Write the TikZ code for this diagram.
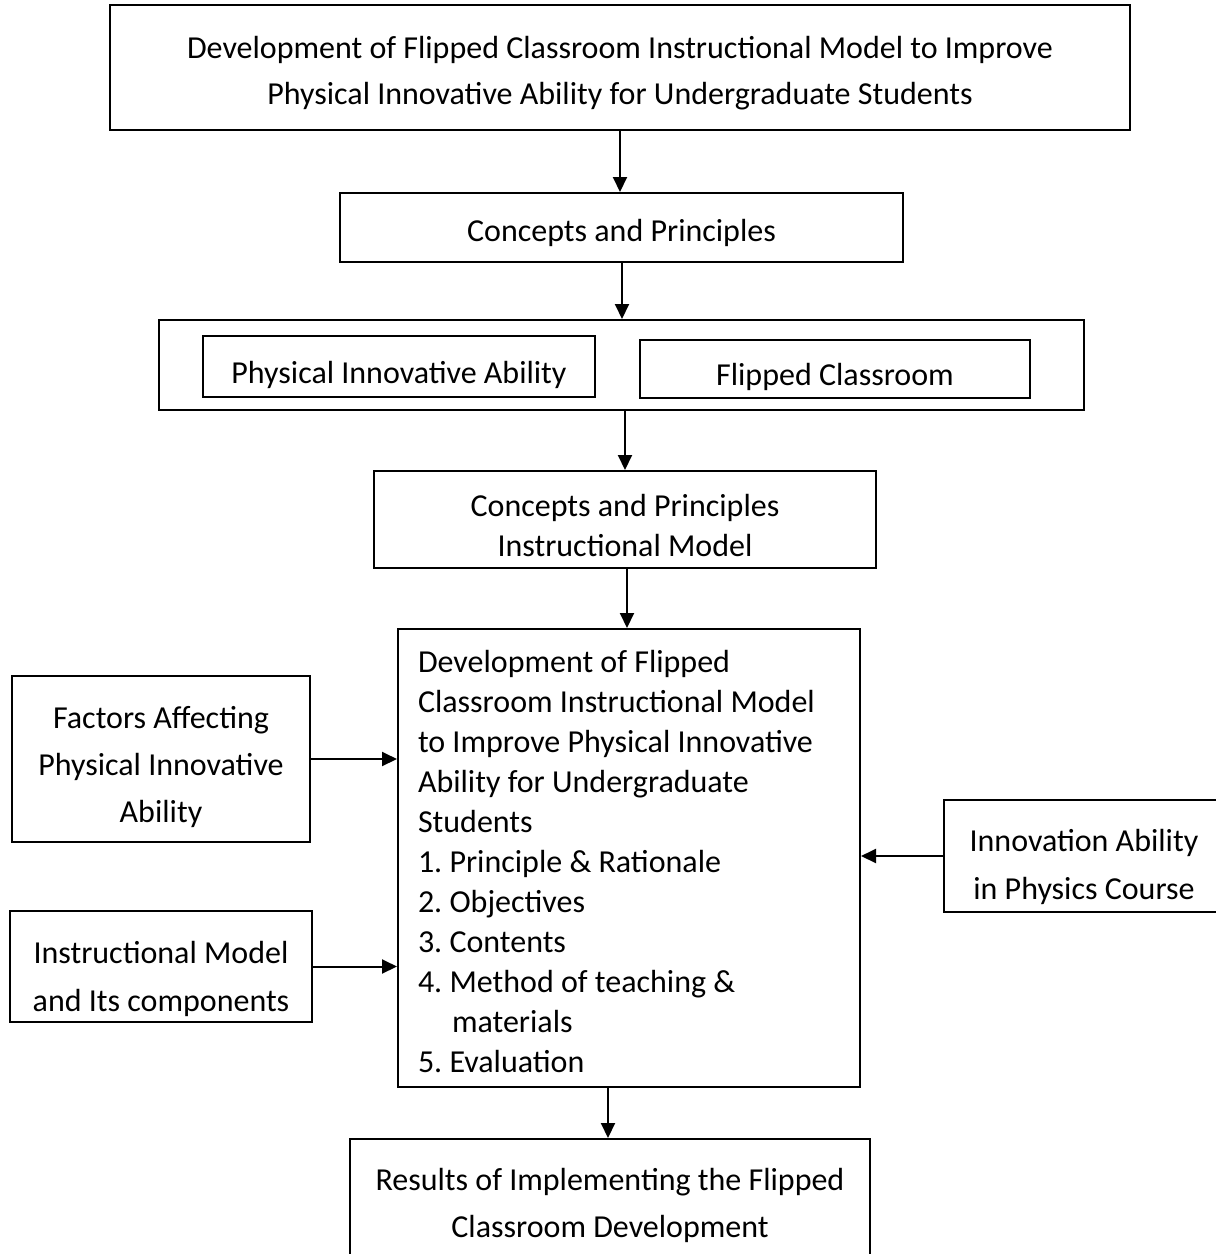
\documentclass[tikz,border=0pt]{standalone}
\usepackage{fontspec}
\newfontfamily\bodyfont{Carlito}
\usetikzlibrary{arrows.meta}
\newcommand\fs[2]{\bodyfont\fontsize{#1}{#2}\selectfont\frenchspacing}
\begin{document}
\begin{tikzpicture}[x=0.5pt,y=-0.5pt,
  box/.style={draw, line width=1pt, inner sep=0pt, align=flush center, font=\fs{16}{23.5}},
  % first-line height and last-line depth of a box's text
  lift/.style 2 args={execute at begin node={\rule{0pt}{#1}},
    execute at end node={\rule[-#2]{0pt}{0pt}}},
  flow/.style={line width=1pt, -{Triangle[length=7.5pt,width=7pt]}}]
\useasboundingbox (0,0) rectangle (1216,1254);

% title
\node[box, minimum width=510pt, minimum height=62.5pt, text width=500pt, font=\fs{16}{23},
      lift={17pt}{2pt}] (title) at (620,67.5)
  {Development of Flipped Classroom Instructional Model to Improve\\Physical Innovative Ability for Undergraduate Students};
% concepts and principles
\node[box, minimum width=281.5pt, minimum height=34.5pt, lift={16.5pt}{2pt}] (cp) at (621.5,227.5) {Concepts and Principles};
% the two bases
\node[box, minimum width=462.5pt, minimum height=45pt] (bases) at (621.5,365) {};
\node[box, minimum width=196pt, minimum height=30.5pt, lift={20pt}{2pt}] (pia) at (399,366.5) {Physical Innovative Ability};
\node[box, minimum width=195pt, minimum height=29pt, lift={19pt}{2pt}] (fc) at (835,369) {Flipped Classroom};
% instructional model principles
\node[box, minimum width=251pt, minimum height=48.5pt, text width=240pt, font=\fs{16}{20},
      lift={19pt}{2pt}] (cpm) at (625,519.5)
  {Concepts and Principles\\Instructional Model};
% developed model
\node[box, minimum width=231pt, minimum height=229pt, align=flush left, text width=211pt, inner xsep=10pt,
      font=\fs{16}{20}, lift={16pt}{2pt}] (dev) at (629,858)
  {Development of Flipped\\Classroom Instructional Model\\to Improve Physical Innovative\\Ability for Undergraduate\\Students\\
   1. Principle \& Rationale\\2. Objectives\\3. Contents\\4. Method of teaching \&\\\hspace*{17pt}materials\\5. Evaluation};
% inputs
\node[box, minimum width=149pt, minimum height=83pt, text width=145pt, lift={19.5pt}{2pt}] (fac) at (161,759)
  {Factors Affecting\\Physical Innovative\\Ability};
\node[box, minimum width=151pt, minimum height=55.5pt, text width=147pt, font=\fs{16}{24},
      lift={24pt}{2pt}] (imc) at (161,966.5)
  {Instructional Model\\and Its components};
\node[box, minimum width=140pt, minimum height=56pt, text width=136pt, font=\fs{16}{24},
      lift={22pt}{2pt}] (ina) at (1084,856)
  {Innovation Ability\\in Physics Course};
% results
\node[box, minimum width=260pt, minimum height=62pt, text width=250pt, lift={15.5pt}{2pt}] (res) at (610,1201)
  {Results of Implementing the Flipped\\Classroom Development};

% connectors
\draw[flow] (title.south -| 620,0) -- (cp.north -| 620,0);
\draw[flow] (cp.south -| 622,0) -- (bases.north -| 622,0);
\draw[flow] (bases.south -| 625,0) -- (cpm.north -| 625,0);
\draw[flow] (cpm.south -| 627,0) -- (dev.north -| 627,0);
\draw[flow] (fac.east) -- (dev.west |- fac.east);
\draw[flow] (imc.east) -- (dev.west |- imc.east);
\draw[flow] (ina.west) -- (dev.east |- ina.west);
\draw[flow] (dev.south -| 608,0) -- (res.north -| 608,0);
\end{tikzpicture}
\end{document}
